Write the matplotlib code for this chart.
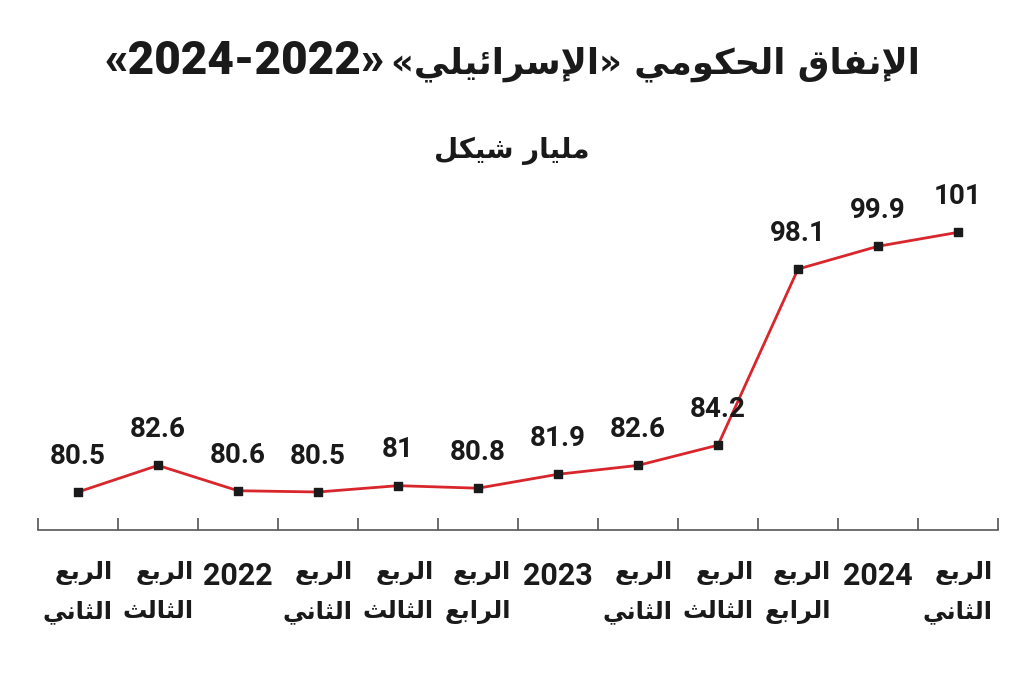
import numpy as np
import matplotlib.pyplot as plt
from matplotlib.ticker import FixedLocator

# values (billion shekel)
values = [80.5, 82.6, 80.6, 80.5, 81, 80.8, 81.9, 82.6, 84.2, 98.1, 99.9, 101]
value_labels = ['80.5', '82.6', '80.6', '80.5', '81', '80.8', '81.9', '82.6', '84.2', '98.1', '99.9', '101']
periods = ['الربع\nالثاني', 'الربع\nالثالث', '2022', 'الربع\nالثاني', 'الربع\nالثالث', 'الربع\nالرابع',
           '2023', 'الربع\nالثاني', 'الربع\nالثالث', 'الربع\nالرابع', '2024', 'الربع\nالثاني']
title_words = 'الإنفاق الحكومي'
title_quoted = 'الإسرائيلي'
title_years = '2024-2022'
subtitle = 'مليار شيكل'

# arabic presentation forms: isolated, final, initial, medial
FORMS = {
    '\u0627': ('\uFE8D', '\uFE8E', None, None),
    '\u0625': ('\uFE87', '\uFE88', None, None),
    '\u0631': ('\uFEAD', '\uFEAE', None, None),
    '\u0648': ('\uFEED', '\uFEEE', None, None),
    '\u0628': ('\uFE8F', '\uFE90', '\uFE91', '\uFE92'),
    '\u062B': ('\uFE99', '\uFE9A', '\uFE9B', '\uFE9C'),
    '\u062D': ('\uFEA1', '\uFEA2', '\uFEA3', '\uFEA4'),
    '\u0633': ('\uFEB1', '\uFEB2', '\uFEB3', '\uFEB4'),
    '\u0634': ('\uFEB5', '\uFEB6', '\uFEB7', '\uFEB8'),
    '\u0639': ('\uFEC9', '\uFECA', '\uFECB', '\uFECC'),
    '\u0641': ('\uFED1', '\uFED2', '\uFED3', '\uFED4'),
    '\u0642': ('\uFED5', '\uFED6', '\uFED7', '\uFED8'),
    '\u0643': ('\uFED9', '\uFEDA', '\uFEDB', '\uFEDC'),
    '\u0644': ('\uFEDD', '\uFEDE', '\uFEDF', '\uFEE0'),
    '\u0645': ('\uFEE1', '\uFEE2', '\uFEE3', '\uFEE4'),
    '\u0646': ('\uFEE5', '\uFEE6', '\uFEE7', '\uFEE8'),
    '\u064A': ('\uFEF1', '\uFEF2', '\uFEF3', '\uFEF4'),
    '\u0626': ('\uFE89', '\uFE8A', '\uFE8B', '\uFE8C'),
}
LAM_ALEF = {'\u0627': ('\uFEFB', '\uFEFC'), '\u0625': ('\uFEF9', '\uFEFA')}


def ar(s):
    # shape + reverse, matplotlib has no bidi
    toks = []
    i = 0
    while i < len(s):
        c = s[i]
        if c == '\u0644' and i + 1 < len(s) and s[i + 1] in LAM_ALEF:
            toks.append(('LA', s[i + 1]))
            i += 2
        else:
            toks.append(('C', c))
            i += 1

    def jl(t):
        return t[0] == 'C' and t[1] in FORMS and FORMS[t[1]][2] is not None

    def jr(t):
        return t[0] == 'LA' or t[1] in FORMS

    out = []
    for k, t in enumerate(toks):
        p = k > 0 and jl(toks[k - 1]) and jr(t)
        n = k < len(toks) - 1 and jl(t) and jr(toks[k + 1])
        if t[0] == 'LA':
            out.append(LAM_ALEF[t[1]][1 if p else 0])
        elif t[1] in FORMS:
            f = FORMS[t[1]]
            if p and n:
                out.append(f[3])
            elif p:
                out.append(f[1])
            elif n:
                out.append(f[2])
            else:
                out.append(f[0])
        else:
            out.append(t[1])
    return ''.join(out)[::-1]


AR_FONT = ['DejaVu Sans']
NUM_FONT = ['Roboto', 'DejaVu Sans']
ink = '#1a1a1a'
red = '#d9262c'

fig = plt.figure(figsize=(10.24, 6.78), dpi=100)
ax = fig.add_axes([38 / 1024, 148 / 678, 960 / 1024, 380 / 678])

x = np.arange(len(values))
ax.plot(x, values, color=red, lw=2, zorder=2)
ax.scatter(x, values, marker='s', s=40, color=ink, zorder=3)
for xi, v, lab in zip(x, values, value_labels):
    ax.annotate(lab, (xi, v), xytext=(0, 16), textcoords='offset points',
                ha='center', va='bottom', fontsize=20, fontweight='bold',
                family=NUM_FONT, color=ink)

ax.set_xlim(-0.5, len(values) - 0.5)
ax.set_ylim(77.5, 107.5)
ax.set_yticks([])
for s in ['top', 'right', 'left']:
    ax.spines[s].set_visible(False)
ax.spines['bottom'].set_color('#555555')
ax.spines['bottom'].set_linewidth(1.2)

ax.xaxis.set_minor_locator(FixedLocator(np.arange(len(values) + 1) - 0.5))
ax.tick_params(axis='x', which='minor', direction='in', length=9, width=1.2, color='#555555')
ax.set_xticks(x)
ax.set_xticklabels([p if p.isdigit() else '\n'.join(ar(line) for line in p.split('\n'))
                    for p in periods])
ax.tick_params(axis='x', which='major', length=0, pad=22)
for lab, p in zip(ax.get_xticklabels(), periods):
    lab.set_fontweight('bold')
    lab.set_color(ink)
    lab.set_multialignment('right')
    lab.set_linespacing(1.75)
    if p.isdigit():
        lab.set_family(NUM_FONT)
        lab.set_fontsize(22)
    else:
        lab.set_family(AR_FONT)
        lab.set_fontsize(17.5)

# title in two pieces: years (latin digits) on the left, arabic on the right
fig.text(105 / 1024, 0.91, '«' + title_years + '»', ha='left', va='center', fontsize=33,
         fontweight='black', family=NUM_FONT, color=ink)
fig.text(920 / 1024, 0.905, '«' + ar(title_quoted) + '» ' + ar(title_words), ha='right', va='center',
         fontsize=25.5, fontweight='bold', family=AR_FONT, color=ink)
fig.text(0.5, 0.778, ar(subtitle), ha='center', va='center', fontsize=20, fontweight='bold',
         family=AR_FONT, color=ink)

fig.savefig('out.png', dpi=100, facecolor='white')
